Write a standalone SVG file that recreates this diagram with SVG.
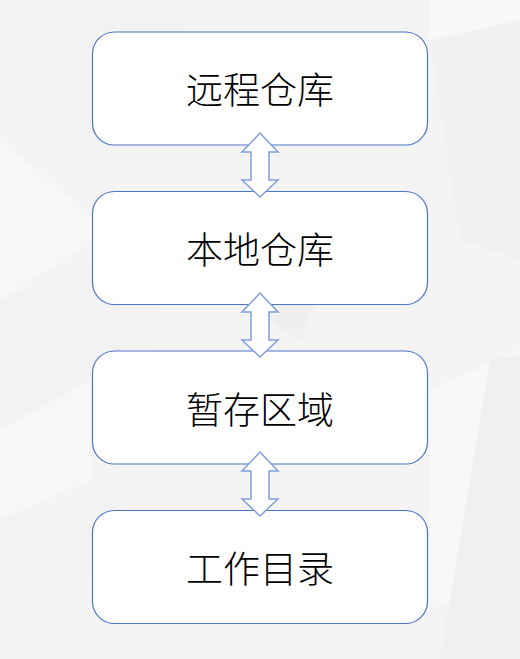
<svg xmlns="http://www.w3.org/2000/svg" width="520" height="659" viewBox="0 0 520 659">
<style>
.box{fill:#ffffff;stroke:#4a76c6;stroke-width:1.2}
.lbl{font-family:"Noto Sans CJK SC","Noto Sans",sans-serif;font-size:37px;font-weight:300;fill:#000;text-anchor:middle;dominant-baseline:central}
.arr{fill:#ffffff;stroke:#7f9fdc;stroke-width:1.5;stroke-linejoin:miter}
</style>
<defs>
<path id="dbl" d="M0,0 L18,19 L9,19 L9,47 L18,47 L0,64 L-18,47 L-9,47 L-9,19 L-18,19 Z"/>
</defs>
<g id="background">
<rect x="0" y="0" width="520" height="659" fill="#f4f4f5"/>
<polygon points="0,0 200,0 120,150 0,120" fill="#f2f2f3"/>
<polygon points="430,0 520,0 520,60 430,50" fill="#f8f8f9"/>
<polygon points="0,140 110,230 0,300" fill="#f7f7f8"/>
<polygon points="0,300 150,240 160,340 0,430" fill="#f2f2f3"/>
<polygon points="150,245 330,270 300,340" fill="#efeff0"/>
<polygon points="430,40 520,20 520,260 460,240" fill="#f1f1f2"/>
<polygon points="0,430 90,380 90,480 0,520" fill="#f7f7f8"/>
<polygon points="0,520 120,490 60,659 0,659" fill="#f2f2f3"/>
<polygon points="430,390 520,350 520,620 430,600" fill="#f8f8f9"/>
<polygon points="490,360 520,355 520,659 440,659" fill="#f0f0f1"/>
</g>
<g id="node-remote">
<rect class="box" x="92.5" y="32" width="335" height="113" rx="22"/>
<text class="lbl" x="260" y="88">远程仓库</text>
</g>
<g id="node-local">
<rect class="box" x="92.5" y="191.5" width="335" height="113" rx="22"/>
<text class="lbl" x="260" y="248">本地仓库</text>
</g>
<g id="node-stage">
<rect class="box" x="92.5" y="351" width="335" height="113" rx="22"/>
<text class="lbl" x="260" y="408">暂存区域</text>
</g>
<g id="node-work">
<rect class="box" x="92.5" y="510.5" width="335" height="113" rx="22"/>
<text class="lbl" x="260" y="567">工作目录</text>
</g>
<g id="connectors">
<use href="#dbl" class="arr" x="260" y="133"/>
<use href="#dbl" class="arr" x="260" y="293"/>
<use href="#dbl" class="arr" x="260" y="452"/>
</g>
</svg>
